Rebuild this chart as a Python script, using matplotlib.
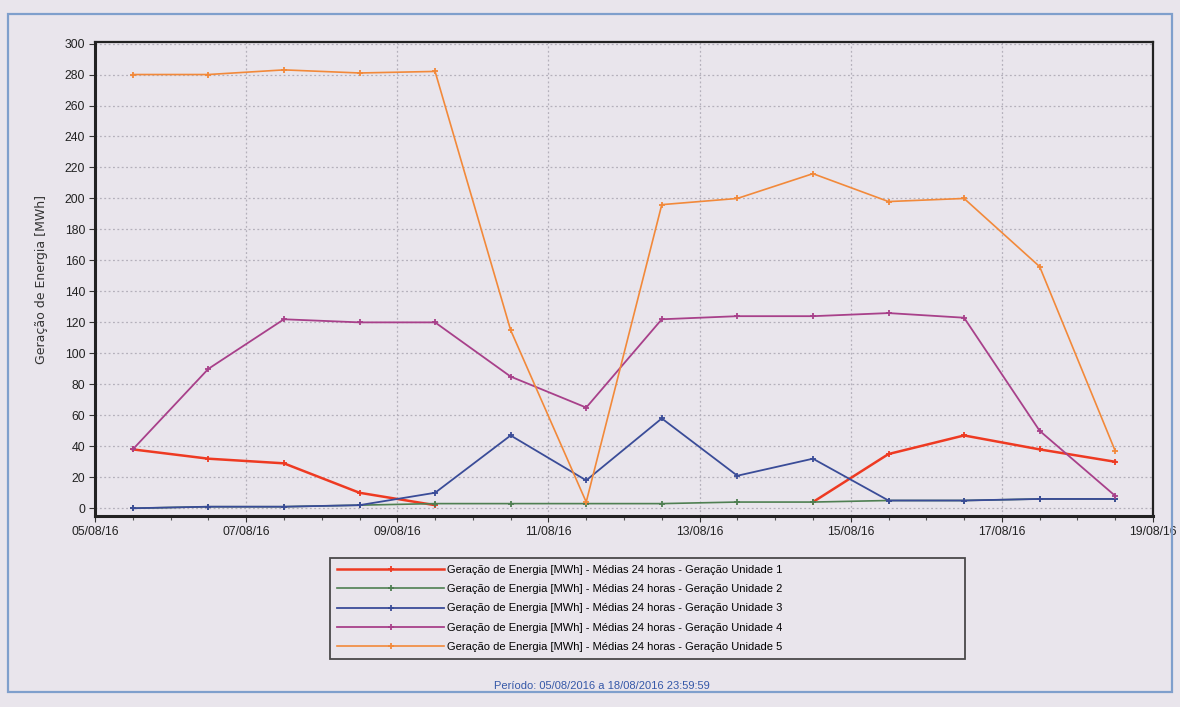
import matplotlib
matplotlib.use("Agg")
import matplotlib.pyplot as plt
import matplotlib.dates as mdates
from matplotlib.patches import Rectangle
import numpy as np
import datetime as dt

plt.rcParams['font.family'] = ['Liberation Sans', 'DejaVu Sans']

days = [dt.datetime(2016, 8, d, 12) for d in range(5, 19)]
nan = float('nan')
unidade1 = [38, 32, 29, 10, 2, nan, nan, nan, nan, 4, 35, 47, 38, 30]
unidade2 = [0, 1, 1, 2, 3, 3, 3, 3, 4, 4, 5, 5, 6, 6]
unidade3 = [0, 1, 1, 2, 10, 47, 18, 58, 21, 32, 5, 5, 6, 6]
unidade4 = [38, 90, 122, 120, 120, 85, 65, 122, 124, 124, 126, 123, 50, 8]
unidade5 = [280, 280, 283, 281, 282, 115, 4, 196, 200, 216, 198, 200, 156, 37]

series = [unidade1, unidade2, unidade3, unidade4, unidade5]
labels = [f"Geração de Energia [MWh] - Médias 24 horas - Geração Unidade {i}" for i in range(1, 6)]
colors = ['#ee3a22', '#4f7f52', '#3a4c98', '#a8408a', '#f2893a']
widths = [1.8, 1.2, 1.3, 1.3, 1.2]

bg = '#e9e5ec'
fig = plt.figure(figsize=(11.8, 7.07), dpi=100, facecolor=bg)
W, H = 1180, 707

# outer frame
fig.patches.append(Rectangle((8 / W, 1 - 692 / H), 1164 / W, 678 / H, transform=fig.transFigure,
                             fill=False, edgecolor='#7f9fcc', linewidth=1.6))

ax = fig.add_axes([95 / W, 1 - 516 / H, 1058 / W, 474 / H], facecolor=bg)
handles = []
for s, lab, c, lw in zip(series, labels, colors, widths):
    h, = ax.plot(days, s, color=c, lw=lw, marker='+', markersize=5, mew=1.3, label=lab)
    handles.append(h)

ax.set_xlim(dt.datetime(2016, 8, 5), dt.datetime(2016, 8, 19))
ax.set_ylim(-5, 301)
ax.set_yticks(np.arange(0, 301, 20))
ax.xaxis.set_major_locator(mdates.DayLocator(interval=2))
ax.xaxis.set_major_formatter(mdates.DateFormatter('%d/%m/%y'))
ax.xaxis.set_minor_locator(mdates.HourLocator(byhour=[0, 12]))
ax.tick_params(axis='both', labelsize=8.8, color='#333333', length=4, width=0.8, pad=3,
               labelcolor='#222222')
ax.tick_params(axis='x', which='minor', length=3, width=0.8, color='#555555')
ax.grid(True, which='major', color='#b4b0bb', linestyle=(0, (1.5, 2)), linewidth=0.9)
for side in ax.spines:
    ax.spines[side].set_color('#222222')
ax.spines['left'].set_linewidth(2.2)
ax.spines['bottom'].set_linewidth(2.2)
ax.spines['top'].set_linewidth(1.6)
ax.spines['right'].set_linewidth(1.6)
ax.set_ylabel('Geração de Energia [MWh]', fontsize=9, color='#333333', labelpad=12,
              family=['DejaVu Sans'])

leg = fig.legend(handles=handles, labels=labels, loc='upper left',
                 bbox_to_anchor=(330 / W, 1 - 667 / H, 635 / W, 109 / H), mode='expand',
                 fontsize=8, handlelength=9.6, handletextpad=0.3, labelspacing=0.82,
                 frameon=True, fancybox=False, edgecolor='#222222', facecolor=bg,
                 borderaxespad=0, borderpad=0.65, markerscale=0.8)
leg.get_frame().set_linewidth(1.3)

fig.text(602 / W, 1 - 686 / H, 'Período: 05/08/2016 a 18/08/2016 23:59:59', ha='center', va='center',
         fontsize=8, color='#3558a8')

fig.savefig('out.png', dpi=100, facecolor=bg)
